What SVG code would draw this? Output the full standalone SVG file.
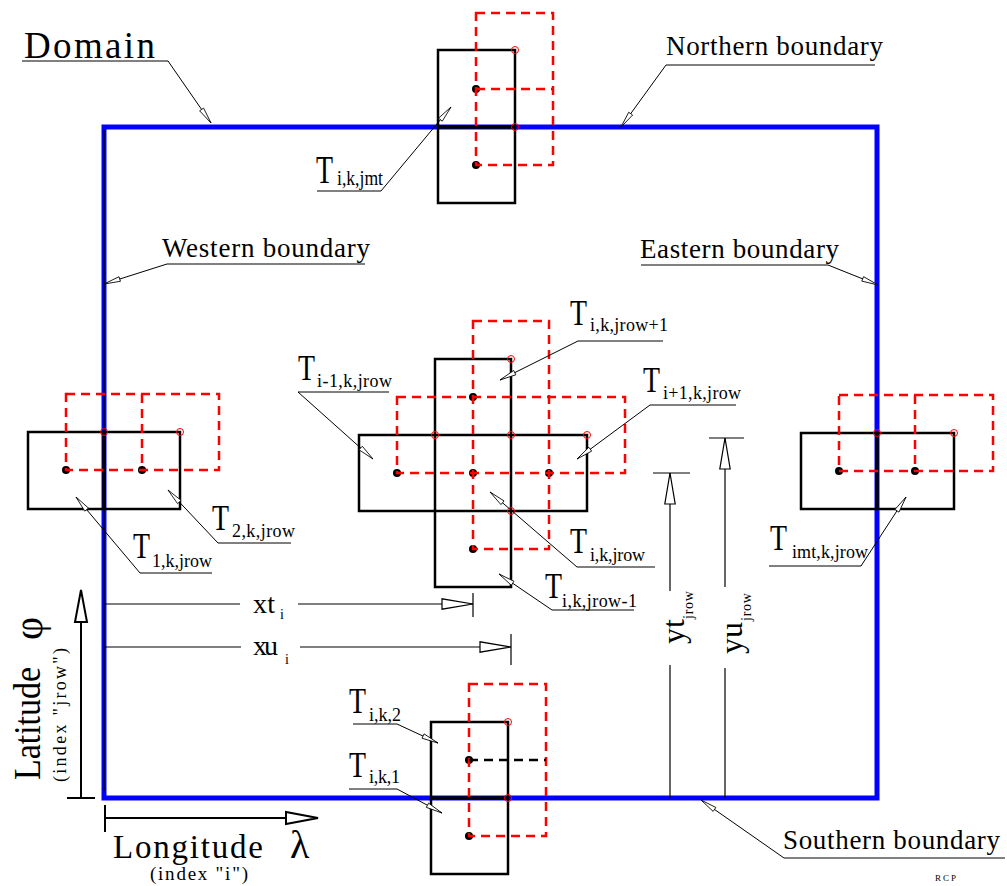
<svg xmlns="http://www.w3.org/2000/svg" width="1007" height="886" viewBox="0 0 1007 886">
  <defs>
    <style>
      text { font-family: "Liberation Serif", "Times New Roman", serif; fill: #000; }
      .cell { fill: none; stroke: #000; stroke-width: 2.5; }
      .udash { fill: none; stroke: #f00; stroke-width: 2.5; stroke-dasharray: 9 6; }
      .kdash { fill: none; stroke: #000; stroke-width: 2.5; stroke-dasharray: 9 6; }
      .div { stroke: #000; stroke-width: 3.5; }
      .dot { fill: #000; }
      .upt { fill: none; stroke: #f00; stroke-width: 1; }
      .lead { fill: none; stroke: #000; stroke-width: 1; marker-end: url(#lead); }
      .dim { fill: none; stroke: #000; stroke-width: 1.2; }
      .dimarrow { fill: none; stroke: #000; stroke-width: 1.2; marker-end: url(#dimhead); }
      .axis { fill: none; stroke: #000; stroke-width: 2; }
      .axisarrow { fill: none; stroke: #000; stroke-width: 2; marker-end: url(#axishead); }
      .bnd { font-size: 27px; }
      .tmain { font-size: 36px; }
      .tsub { font-size: 18px; }
    </style>
    <!-- thin open arrowhead for label leaders -->
    <marker id="lead" markerUnits="userSpaceOnUse" viewBox="0 0 18 8" markerWidth="18" markerHeight="8" refX="16.5" refY="4" orient="auto" overflow="visible">
      <path d="M16.5,4 L0,1.6 L0,6.4 Z" fill="#fff" stroke="#000" stroke-width="0.8"/>
    </marker>
    <!-- open arrowhead for dimension lines -->
    <marker id="dimhead" markerUnits="userSpaceOnUse" viewBox="0 0 32 12" markerWidth="32" markerHeight="12" refX="31" refY="6" orient="auto" overflow="visible">
      <path d="M31,6 L0,0.8 L0,11.2 Z" fill="#fff" stroke="#000" stroke-width="1.2"/>
    </marker>
    <!-- open arrowhead for the coordinate axes -->
    <marker id="axishead" markerUnits="userSpaceOnUse" viewBox="0 0 34 14" markerWidth="34" markerHeight="14" refX="32" refY="7" orient="auto" overflow="visible">
      <path d="M32,7 L0,1 L0,13 Z" fill="#fff" stroke="#000" stroke-width="2"/>
    </marker>
  </defs>

  <rect width="1007" height="886" fill="#fff"/>

  <!-- model domain -->
  <g id="domain">
    <rect x="104" y="127" width="773" height="671" fill="none" stroke="#0000ff" stroke-width="5"/>
    <line x1="104" y1="130" x2="104" y2="791" stroke="#000" stroke-width="1.5"/>
  </g>

  <!-- T cells at the northern row -->
  <g id="cells-north">
    <rect class="cell" x="438" y="50" width="77" height="153"/>
    <line class="div" x1="438" y1="127" x2="515" y2="127"/>
    <circle class="dot" cx="476" cy="89" r="4"/>
    <circle class="dot" cx="476" cy="165" r="4"/>
    <rect class="udash" x="476" y="13" width="77" height="152"/>
    <line class="udash" x1="476" y1="89" x2="553" y2="89"/>
    <circle class="upt" cx="515" cy="50" r="3.5"/>
    <circle class="upt" cx="515" cy="127" r="3.5"/>
  </g>

  <!-- interior stencil around T(i,k,jrow) -->
  <g id="cells-interior">
    <rect class="cell" x="435" y="359" width="76" height="228"/>
    <rect class="cell" x="359" y="435" width="228" height="76"/>
    <circle class="dot" cx="473" cy="397" r="4"/>
    <circle class="dot" cx="397" cy="473" r="4"/>
    <circle class="dot" cx="473" cy="473" r="4"/>
    <circle class="dot" cx="549" cy="473" r="4"/>
    <circle class="dot" cx="473" cy="549" r="4"/>
    <rect class="udash" x="473" y="321" width="76" height="228"/>
    <rect class="udash" x="397" y="397" width="228" height="76"/>
    <circle class="upt" cx="511" cy="359" r="3.5"/>
    <circle class="upt" cx="435" cy="435" r="3.5"/>
    <circle class="upt" cx="511" cy="435" r="3.5"/>
    <circle class="upt" cx="587" cy="435" r="3.5"/>
    <circle class="upt" cx="511" cy="511" r="3.5"/>
  </g>

  <!-- T cells at the western edge -->
  <g id="cells-west">
    <rect class="cell" x="28" y="432" width="152" height="77"/>
    <line class="div" x1="104" y1="432" x2="104" y2="509"/>
    <circle class="dot" cx="66" cy="470" r="4"/>
    <circle class="dot" cx="142" cy="470" r="4"/>
    <rect class="udash" x="66" y="394" width="153" height="76"/>
    <line class="udash" x1="142" y1="394" x2="142" y2="470"/>
    <circle class="upt" cx="104" cy="432" r="3.5"/>
    <circle class="upt" cx="180" cy="432" r="3.5"/>
  </g>

  <!-- T cells at the eastern edge -->
  <g id="cells-east">
    <rect class="cell" x="801" y="433" width="153" height="76"/>
    <line class="div" x1="877" y1="433" x2="877" y2="509"/>
    <circle class="dot" cx="839" cy="471" r="4"/>
    <circle class="dot" cx="915" cy="471" r="4"/>
    <rect class="udash" x="839" y="395" width="154" height="76"/>
    <line class="udash" x1="915" y1="395" x2="915" y2="471"/>
    <circle class="upt" cx="877" cy="433" r="3.5"/>
    <circle class="upt" cx="954" cy="433" r="3.5"/>
  </g>

  <!-- T cells at the southern row -->
  <g id="cells-south">
    <rect class="cell" x="431" y="722" width="77" height="152"/>
    <line class="div" x1="431" y1="798" x2="508" y2="798"/>
    <circle class="dot" cx="469" cy="760" r="4"/>
    <circle class="dot" cx="469" cy="836" r="4"/>
    <rect class="udash" x="469" y="684" width="77" height="152"/>
    <line class="kdash" x1="469" y1="760" x2="546" y2="760"/>
    <circle class="upt" cx="508" cy="722" r="3.5"/>
    <circle class="upt" cx="508" cy="798" r="3.5"/>
  </g>

  <!-- leaders, dimension lines and axes -->
  <g id="connectors">
    <polyline class="lead" points="22,61 168,61 211,123"/>
    <polyline class="lead" points="875,65 666,65 621,127"/>
    <polyline class="lead" points="641,265 828,265 878,285"/>
    <polyline class="lead" points="365,264 167,264 104,284"/>
    <polyline class="lead" points="1005,858 784,858 701,800"/>
    <polyline class="lead" points="317,191 381,191 451,107"/>
    <polyline class="lead" points="389,392 298,392 373,459"/>
    <polyline class="lead" points="212,573 140,573 76,497"/>
    <polyline class="lead" points="291,543 218,543 168,490"/>
    <polyline class="lead" points="663,341 578,341 500,380"/>
    <polyline class="lead" points="736,405 650,405 577,459"/>
    <polyline class="lead" points="655,567 577,567 490,492"/>
    <polyline class="lead" points="634,610 552,610 499,574"/>
    <polyline class="lead" points="769,566 861,566 906,497"/>
    <polyline class="lead" points="353,724 397,724 438,743"/>
    <polyline class="lead" points="349,789 397,789 442,813"/>

    <!-- xt, xu -->
    <line class="dim" x1="105" y1="604" x2="240" y2="604"/>
    <line class="dimarrow" x1="298" y1="604" x2="473" y2="604"/>
    <line class="dim" x1="473" y1="593" x2="473" y2="617"/>
    <line class="dim" x1="105" y1="647" x2="241" y2="647"/>
    <line class="dimarrow" x1="300" y1="647" x2="511" y2="647"/>
    <line class="dim" x1="511" y1="634" x2="511" y2="665"/>

    <!-- yt, yu -->
    <line class="dim" x1="670" y1="798" x2="670" y2="665"/>
    <line class="dimarrow" x1="670" y1="591" x2="670" y2="473"/>
    <line class="dim" x1="653" y1="473" x2="690" y2="473"/>
    <line class="dim" x1="725" y1="798" x2="725" y2="668"/>
    <line class="dimarrow" x1="725" y1="587" x2="725" y2="438"/>
    <line class="dim" x1="709" y1="438" x2="744" y2="438"/>

    <!-- axes -->
    <line class="axisarrow" x1="81" y1="798" x2="81" y2="590"/>
    <line class="axis" x1="67" y1="798" x2="95" y2="798"/>
    <line class="axisarrow" x1="105" y1="818" x2="318" y2="818"/>
    <line class="axis" x1="105" y1="805" x2="105" y2="832"/>
  </g>

  <!-- boundary names -->
  <g id="labels-boundaries">
    <text x="24" y="58" font-size="37" textLength="131">Domain</text>
    <text class="bnd" x="666" y="55" textLength="217">Northern boundary</text>
    <text class="bnd" x="640" y="258" textLength="199">Eastern boundary</text>
    <text class="bnd" x="162" y="257" textLength="208">Western boundary</text>
    <text class="bnd" x="783" y="849" textLength="217">Southern boundary</text>
  </g>

  <!-- T point names -->
  <g id="labels-t">
    <text x="316" y="183" font-size="40" textLength="17" lengthAdjust="spacingAndGlyphs">T</text>
    <text x="337" y="185" font-size="22" textLength="46" lengthAdjust="spacingAndGlyphs">i,k,jmt</text>

    <text class="tmain" x="298" y="380" textLength="17" lengthAdjust="spacingAndGlyphs">T</text>
    <text class="tsub" x="317" y="387" textLength="75">i-1,k,jrow</text>

    <text class="tmain" x="133" y="558" textLength="17" lengthAdjust="spacingAndGlyphs">T</text>
    <text class="tsub" x="152" y="567" textLength="60">1,k,jrow</text>

    <text class="tmain" x="212" y="530" textLength="17" lengthAdjust="spacingAndGlyphs">T</text>
    <text class="tsub" x="232" y="537" textLength="63">2,k,jrow</text>

    <text class="tmain" x="570" y="325" textLength="17" lengthAdjust="spacingAndGlyphs">T</text>
    <text class="tsub" x="590" y="331" textLength="78">i,k,jrow+1</text>

    <text class="tmain" x="643" y="392" textLength="17" lengthAdjust="spacingAndGlyphs">T</text>
    <text class="tsub" x="663" y="399" textLength="78">i+1,k,jrow</text>

    <text class="tmain" x="570" y="553" textLength="17" lengthAdjust="spacingAndGlyphs">T</text>
    <text class="tsub" x="590" y="561" textLength="55">i,k,jrow</text>

    <text class="tmain" x="545" y="598" textLength="17" lengthAdjust="spacingAndGlyphs">T</text>
    <text class="tsub" x="562" y="607" textLength="75">i,k,jrow-1</text>

    <text class="tmain" x="770" y="550" textLength="17" lengthAdjust="spacingAndGlyphs">T</text>
    <text class="tsub" x="792" y="558" textLength="76">imt,k,jrow</text>

    <text class="tmain" x="349" y="713" textLength="17" lengthAdjust="spacingAndGlyphs">T</text>
    <text class="tsub" x="369" y="721" textLength="32">i,k,2</text>

    <text class="tmain" x="349" y="777" textLength="17" lengthAdjust="spacingAndGlyphs">T</text>
    <text class="tsub" x="369" y="783" textLength="31">i,k,1</text>
  </g>

  <!-- grid spacing names -->
  <g id="labels-spacing">
    <text x="253" y="613" font-size="28" textLength="22">xt</text>
    <text x="280" y="619" font-size="14">i</text>
    <text x="253" y="655" font-size="28" textLength="25">xu</text>
    <text x="285" y="664" font-size="14">i</text>
    <text transform="translate(684,644) rotate(-90)" font-size="32">yt</text>
    <text transform="translate(693,619) rotate(-90)" font-size="14" textLength="28">jrow</text>
    <text transform="translate(742,654) rotate(-90)" font-size="32">yu</text>
    <text transform="translate(751,621) rotate(-90)" font-size="14" textLength="28">jrow</text>
  </g>

  <!-- axis names -->
  <g id="labels-axes">
    <text transform="translate(40,780) rotate(-90)" font-size="38" textLength="113" lengthAdjust="spacingAndGlyphs">Latitude</text>
    <text transform="translate(42,640) rotate(-90)" font-size="40">φ</text>
    <text transform="translate(66,782) rotate(-90)" font-size="18" textLength="134">(index "jrow")</text>
    <text x="113" y="858" font-size="33" textLength="150">Longitude</text>
    <text x="290" y="858" font-size="40">λ</text>
    <text x="150" y="880" font-size="19" textLength="98">(index "i")</text>
    <text x="935" y="881" font-size="9" textLength="21">RCP</text>
  </g>
</svg>
